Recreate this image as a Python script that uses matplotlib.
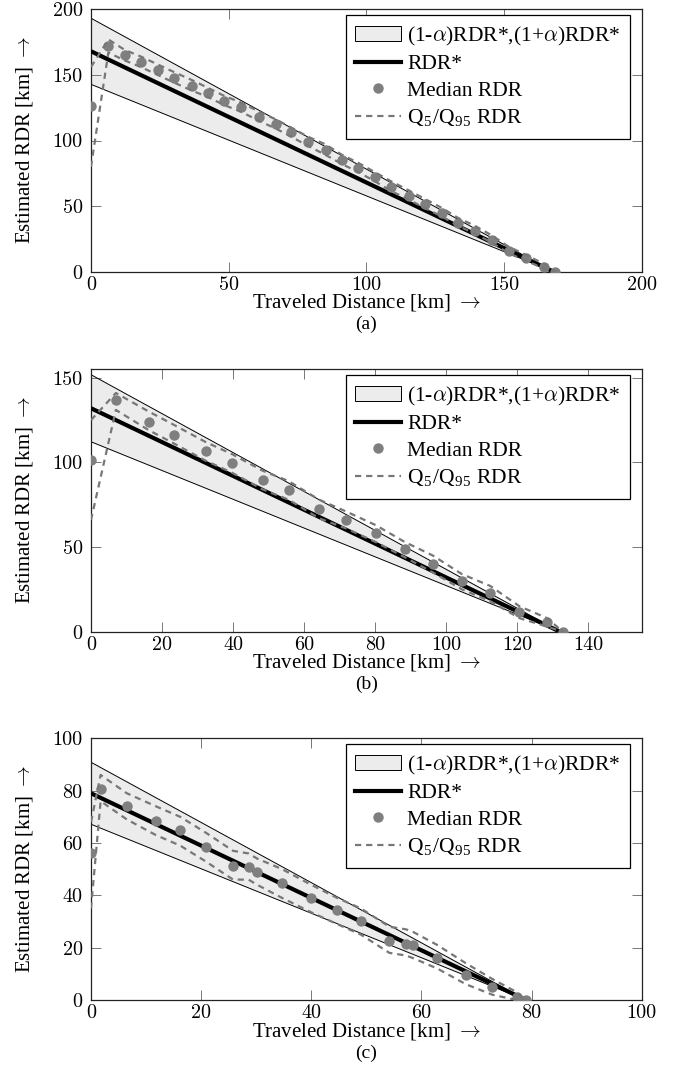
import numpy as np
import matplotlib
matplotlib.use("Agg")
import matplotlib.pyplot as plt
from matplotlib.patches import Patch
from matplotlib.lines import Line2D

plt.rcParams['font.family'] = ['Liberation Serif', 'DejaVu Serif']
plt.rcParams['mathtext.fontset'] = 'cm'

# ---- data ----
alpha = 0.15

# (a)
rdr_a = 168.0
med_a_x = [0, 6.3, 12.3, 18.1, 24.2, 30.3, 36.7, 42.6, 48.4, 54.4, 61.0, 67.2, 72.6, 78.7,
           85.2, 91.2, 97.0, 103.0, 108.9, 115.4, 121.2, 127.5, 133.3, 139.4, 145.7, 151.7,
           157.8, 164.4, 168.4]
med_a_y = [126, 172, 165, 160, 153.7, 148, 141.7, 136.4, 130.3, 125.2, 118.1, 112.3, 106.2, 99,
           92.7, 85.1, 79.2, 72.4, 64.8, 57.7, 51.6, 44.5, 37.3, 31.2, 24.1, 16, 10.2, 3.8, 0]
q95_a = [156, 177, 169, 164, 158, 152, 146, 140, 134, 129, 122, 116, 110, 103,
         97, 89, 83, 76, 69, 62, 55.5, 48.5, 41, 35, 27.5, 19, 13, 6, 0]
q5_a = [80, 167, 161, 156, 150, 144, 138, 133, 127, 122, 115, 109, 103, 96,
        89, 82, 76, 69, 61.5, 55, 48.5, 42, 35, 29, 22, 14, 8.5, 2.5, 0]

# (b)
rdr_b = 132.0
med_b_x = [0, 7.0, 16.3, 23.5, 32.3, 39.6, 48.4, 55.6, 64.2, 71.8, 80.1, 88.3, 96.2, 104.4,
           112.4, 120.6, 128.4, 132.8]
med_b_y = [101.4, 136.7, 124.1, 116.3, 106.5, 99.4, 89.6, 83.8, 72.6, 66.1, 58.3, 48.6, 40.2,
           29.8, 22.6, 11.4, 5.5, 0]
q95_b = [125, 141, 130, 122, 112, 105, 95, 89, 78, 71, 63, 53, 45, 34, 27, 15, 8, 0]
q5_b = [66, 131, 119, 111, 101, 94, 84, 78, 67, 61, 53, 44, 35, 25, 18, 8, 3, 0]

# (c)
rdr_c = 79.0
med_c_x = [0, 1.75, 6.5, 11.8, 16.2, 20.8, 25.8, 28.6, 30.2, 34.7, 40.0, 44.7, 49.0, 54.2,
           57.2, 58.5, 62.9, 68.1, 72.9, 77.3, 78.9]
med_c_y = [56.3, 80.6, 74.1, 68.5, 65, 58.3, 51.3, 50.7, 49, 44.6, 38.9, 34.4, 30.2, 22.7,
           21.4, 20.9, 16.2, 9.6, 5.1, 1.3, 0]
q95_c = [68, 86, 79, 74, 70, 64, 57, 56, 54, 50, 44, 39, 35, 28, 27, 26, 21, 14, 8, 3, 0]
q5_c = [35, 76, 69, 63, 59, 53, 46, 46, 44, 39, 33.5, 29, 25, 18, 17, 16, 12, 6, 2, 0, 0]

panels = [
    dict(rdr=rdr_a, mx=med_a_x, my=med_a_y, hi=q95_a, lo=q5_a,
         xlim=200, ylim=200, xt=[0, 50, 100, 150, 200], yt=[0, 50, 100, 150, 200],
         box=(9.3, 271.7), tag='(a)'),
    dict(rdr=rdr_b, mx=med_b_x, my=med_b_y, hi=q95_b, lo=q5_b,
         xlim=155, ylim=155, xt=[0, 20, 40, 60, 80, 100, 120, 140], yt=[0, 50, 100, 150],
         box=(369.3, 631.7), tag='(b)'),
    dict(rdr=rdr_c, mx=med_c_x, my=med_c_y, hi=q95_c, lo=q5_c,
         xlim=100, ylim=100, xt=[0, 20, 40, 60, 80, 100], yt=[0, 20, 40, 60, 80, 100],
         box=(738.3, 1000.0), tag='(c)'),
]

W, H = 686, 1088
fig = plt.figure(figsize=(W / 100., H / 100.), dpi=100)
left, right = 91.0, 641.7
dash = (0, (2.8, 2.2))
dotc = '#7f7f7f'
dashc = '#777777'

for p in panels:
    top, bot = p['box']
    ax = fig.add_axes([left / W, 1 - bot / H, (right - left) / W, (bot - top) / H])
    ax.set_xlim(0, p['xlim'])
    ax.set_ylim(0, p['ylim'])

    xs = np.array([0, p['rdr']])
    rs = p['rdr'] - xs
    ax.fill_between(xs, (1 - alpha) * rs, (1 + alpha) * rs, facecolor='#ececec',
                    edgecolor='none', zorder=1)
    ax.plot(xs, (1 + alpha) * rs, color='black', lw=0.7, zorder=2)
    ax.plot(xs, (1 - alpha) * rs, color='black', lw=0.7, zorder=2)
    ax.plot(xs, rs, color='black', lw=3.0, zorder=3, solid_capstyle='butt')
    ax.plot(p['mx'], p['my'], 'o', color=dotc, ms=7.5, mew=0, zorder=4)
    ax.plot(p['mx'], p['hi'], color=dashc, lw=1.6, ls=dash, zorder=5)
    ax.plot(p['mx'], p['lo'], color=dashc, lw=1.6, ls=dash, zorder=5)

    handles = [
        Patch(facecolor='#ececec', edgecolor='black', lw=0.7),
        Line2D([], [], color='black', lw=3.0),
        Line2D([], [], ls='none', marker='o', color=dotc, ms=7.5, mew=0),
        Line2D([], [], color=dashc, lw=1.6, ls=dash),
    ]
    labels = [r'(1-$\alpha$)RDR*,(1+$\alpha$)RDR*', 'RDR*', 'Median RDR',
              r'Q$_{\mathregular{5}}$/Q$_{\mathregular{95}}$ RDR']
    leg = ax.legend(handles, labels, loc='upper right', fontsize=15.5,
                    bbox_to_anchor=(1 - 11.7 / (right - left), 1 - 5.7 / (bot - top)),
                    borderaxespad=0, fancybox=False, framealpha=1, edgecolor='black',
                    handlelength=2.1, handletextpad=0.3, labelspacing=0.3,
                    borderpad=0.45, numpoints=1)
    leg.get_frame().set_linewidth(0.9)

    ax.set_xticks(p['xt'], [str(t) for t in p['xt']], fontfamily='cmr10', fontsize=14.5)
    ax.set_yticks(p['yt'], [str(t) for t in p['yt']], fontfamily='cmr10', fontsize=14.5)
    ax.tick_params(direction='in', length=7.5, width=0.7, color='#777777',
                   top=True, right=True)
    ax.tick_params(axis='x', pad=3)
    ax.tick_params(axis='y', pad=6)
    for s in ax.spines.values():
        s.set_linewidth(0.9)
        s.set_color('#222222')

    fig.text((left + right) / 2 / W, 1 - (bot + 31) / H, r'Traveled Distance [km] $\rightarrow$',
             ha='center', va='center', fontsize=15)
    fig.text((left + right) / 2 / W, 1 - (bot + 53) / H, p['tag'],
             ha='center', va='center', fontsize=14)
    fig.text(25.0 / W, 1 - (top + bot) / 2 / H, r'Estimated RDR [km] $\rightarrow$',
             ha='center', va='center', rotation=90, fontsize=15)

fig.savefig('out.png', dpi=100)
